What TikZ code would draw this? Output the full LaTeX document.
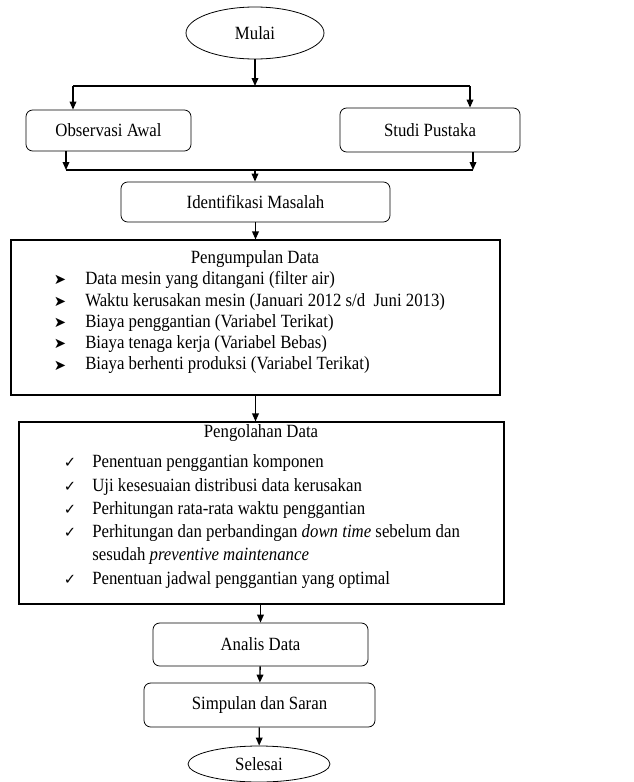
\documentclass[tikz,border=0pt]{standalone}
\usepackage{fontspec}
\setmainfont{Liberation Serif}[FakeStretch=0.9]
\newfontfamily\symfont{DejaVu Sans}
\usetikzlibrary{shapes.geometric,arrows.meta}

\begin{document}
\begin{tikzpicture}[x=0.75pt,y=-0.75pt,
        font=\fontsize{14}{16}\selectfont,
        every node/.style={inner sep=0pt},
        oval/.style={draw,ellipse,line width=0.6pt},
        rbox/.style={draw,rounded corners=5pt,line width=0.6pt},
        bigbox/.style={draw,line width=0.8pt},
        arr/.style={-{Triangle[length=6pt,width=5pt]},line width=1pt},
        bar/.style={line width=1.5pt},
        item/.style={anchor=west}]
    \useasboundingbox (0,0) rectangle (634,782);

    \node[oval,minimum width=103.5pt,minimum height=39pt] (mulai) at (255,33) {Mulai};
    \node[rbox,minimum width=123.75pt,minimum height=30.75pt] (obs) at (108.5,130.5) {Observasi Awal};
    \node[rbox,minimum width=135pt,minimum height=33pt] (studi) at (430,130) {Studi Pustaka};
    \node[rbox,minimum width=201.75pt,minimum height=30pt] (ident) at (255.5,202) {Identifikasi Masalah};
    \node[bigbox,minimum width=366.75pt,minimum height=116.25pt] (kumpul) at (255.5,317.5) {};
    \node[bigbox,minimum width=363.75pt,minimum height=136.5pt] (olah) at (261.5,513) {};
    \node[rbox,minimum width=161.25pt,minimum height=32.25pt] (analis) at (260.5,644.5) {Analis Data};
    \node[rbox,minimum width=173.25pt,minimum height=33pt] (simpul) at (259.5,705) {Simpulan dan Saran};
    \node[oval,minimum width=106.5pt,minimum height=27pt] (selesai) at (259,764) {Selesai};

    % isi pengumpulan data
    \node (kumpulT) at (255,259) {Pengumpulan Data};
    \foreach \i/\txt in {1/{Data mesin yang ditangani (filter air)},
            2/{Waktu kerusakan mesin (Januari 2012 s/d~ Juni 2013)},
            3/{Biaya penggantian (Variabel Terikat)},
            4/{Biaya tenaga kerja (Variabel Bebas)},
            5/{Biaya berhenti produksi (Variabel Terikat)}} {
        \node (kb\i) at (60,{259+21.3*\i}) {\symfont\fontsize{11}{12}\selectfont ➤};
        \node[item] (k\i) at (85,{259+21.3*\i}) {\txt};
    }

    % isi pengolahan data
    \node (olahT) at (261,433) {Pengolahan Data};
    \foreach \i/\yy/\txt in {1/463/{Penentuan penggantian komponen},
            2/487/{Uji kesesuaian distribusi data kerusakan},
            3/510/{Perhitungan rata-rata waktu penggantian},
            4/533/{Perhitungan dan perbandingan \textit{down time} sebelum dan},
            6/580/{Penentuan jadwal penggantian yang optimal}} {
        \node (ob\i) at (70,\yy) {\symfont\fontsize{11}{12}\selectfont ✓};
        \node[item] (o\i) at (92,\yy) {\txt};
    }
    \node[item] (o5) at (92,556) {sesudah \textit{preventive maintenance}};

    % percabangan
    \coordinate (split) at (255,86);
    \coordinate (sL) at (73,86);
    \coordinate (sR) at (470,86);
    \coordinate (jL) at (66,170);
    \coordinate (jR) at (473,170);
    \coordinate (jM) at (255,170);

    \draw[arr] (mulai) -- (split);
    \draw[bar] (sL) -- (sR);
    \draw[arr] (sL) -- (sL |- obs.north);
    \draw[arr] (sR) -- (sR |- studi.north);
    \draw[arr] (jL |- obs.south) -- (jL);
    \draw[arr] (jR |- studi.south) -- (jR);
    \draw[bar] (jL) -- (jR);
    \draw[arr] (jM) -- (jM |- ident.north);
    \draw[arr] (ident.south) -- (ident.south |- kumpul.north);
    \draw[arr] (kumpul.south) -- (kumpul.south |- olah.north);
    \draw[arr] (olah.south -| analis) -- (analis);
    \draw[arr] (analis) -- (simpul);
    \draw[arr] (simpul) -- (selesai);
\end{tikzpicture}
\end{document}
